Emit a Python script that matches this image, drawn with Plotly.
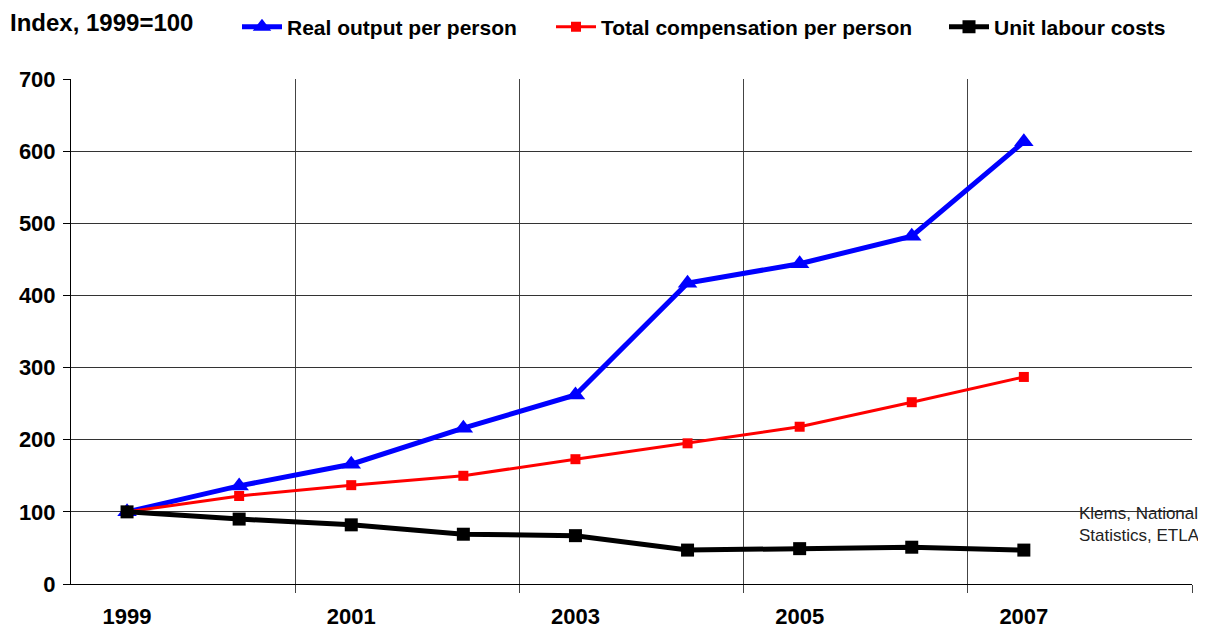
import plotly.graph_objects as go

years = [1999, 2000, 2001, 2002, 2003, 2004, 2005, 2006, 2007]
real_output = [100, 136, 166, 216, 262, 417, 444, 482, 613]
compensation = [100, 122, 137, 150, 173, 195, 218, 252, 287]
unit_labour = [100, 90, 82, 69, 67, 47, 49, 51, 47]
tick_years = [1999, 2001, 2003, 2005, 2007]
tick_labels = ["1999", "2001", "2003", "2005", "2007"]
grid_years = [2000.5, 2002.5, 2004.5, 2006.5, 2008.5]

FONT = "Liberation Sans, Arial, sans-serif"

# page body has an 8px margin; figure coordinates are offset accordingly
OFF = 8
W, H = 1206 - 2 * OFF, 633 - OFF
PL, PT, PR, PB = 71 - OFF, 79 - OFF, 1192 - OFF, 584 - OFF
PW, PH = PR - PL, PB - PT


def lx(win_x):
    return (win_x - OFF - PL) / PW


leg_y = 1 + (PT - (27 - OFF)) / PH

fig = go.Figure()
fig.add_trace(go.Scatter(x=years, y=real_output, name="<b>Real output per person</b>",
                         mode="lines+markers", line=dict(color="#0000FF", width=5),
                         marker=dict(symbol="triangle-up", size=17, color="#0000FF"),
                         legend="legend"))
fig.add_trace(go.Scatter(x=years, y=compensation, name="<b>Total compensation per person</b>",
                         mode="lines+markers", line=dict(color="#FF0000", width=3),
                         marker=dict(symbol="square", size=10, color="#FF0000"),
                         legend="legend2"))
fig.add_trace(go.Scatter(x=years, y=unit_labour, name="<b>Unit labour costs</b>",
                         mode="lines+markers", line=dict(color="#000000", width=5),
                         marker=dict(symbol="square", size=13, color="#000000"),
                         legend="legend3"))

leg_common = dict(orientation="h", xanchor="left", y=leg_y, yanchor="middle",
                  font=dict(size=21, family=FONT), itemwidth=40,
                  bgcolor="rgba(0,0,0,0)")

fig.update_layout(
    width=W, height=H,
    margin=dict(l=PL, r=W - PR, t=PT, b=H - PB, autoexpand=False),
    paper_bgcolor="white", plot_bgcolor="white",
    font=dict(family=FONT, color="black"),
    title=dict(text="<b>Index, 1999=100</b>", x=(10 - OFF) / W, xanchor="left",
               y=1 - (23 - OFF) / H, yanchor="middle", font=dict(size=24, family=FONT)),
    legend=dict(x=lx(237), **leg_common),
    legend2=dict(x=lx(551), **leg_common),
    legend3=dict(x=lx(944), **leg_common),
    showlegend=True,
)
fig.update_xaxes(range=[1998.5, 2008.5], tickmode="array", tickvals=tick_years,
                 ticktext=["<b>%s</b>" % t for t in tick_labels], ticks="", showgrid=False,
                 tickfont=dict(size=22, family=FONT), zeroline=False, ticklabelstandoff=13,
                 showline=True, linecolor="black", linewidth=1,
                 minor=dict(tickmode="array", tickvals=grid_years, showgrid=True,
                            gridcolor="#444444", gridwidth=1, ticks="outside",
                            ticklen=8, tickcolor="#444444"))
fig.update_yaxes(range=[0, 700], dtick=100, tickfont=dict(size=22, family=FONT),
                 tickprefix="<b>", ticksuffix="</b>",
                 showgrid=True, gridcolor="#333333", gridwidth=1, zeroline=False,
                 showline=True, linecolor="black", linewidth=1,
                 ticks="outside", ticklen=7, tickcolor="black", ticklabelstandoff=3)

fig.add_annotation(text="Klems, National<br>Statistics, ETLA", xref="paper", yref="y",
                   x=lx(1077), y=82, xanchor="left", yanchor="middle",
                   showarrow=False, align="left", font=dict(size=17, family=FONT, color="#222"))

fig.write_html("out.html")
